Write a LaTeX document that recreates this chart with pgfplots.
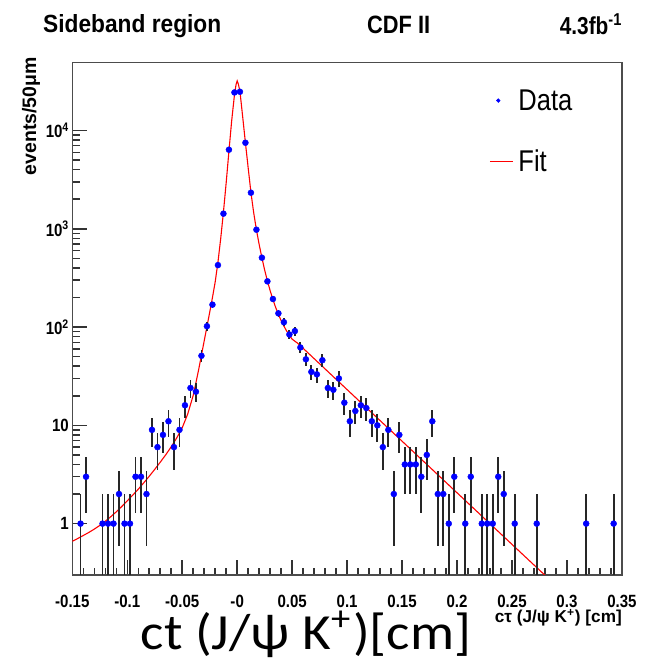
\documentclass[border=0pt]{standalone}
\usepackage{pgfplots}
\pgfplotsset{compat=1.18}
\usepackage{pgfplotstable}
\usepackage{graphicx}
\usepackage{fontspec}
\setmainfont{Liberation Sans}
\newfontfamily\bigfont{Carlito}
\newcommand{\tl}[1]{\scalebox{0.85}[1]{\bfseries #1}}

\pgfplotstableread{
x y ep em
-0.1425 1 1 0.999
-0.1375 3 1.732 1.732
-0.1225 1 1 0.999
-0.1175 1 1 0.999
-0.1125 1 1 0.999
-0.1075 2 1.414 1.414
-0.1025 1 1 0.999
-0.0975 1 1 0.999
-0.0925 3 1.732 1.732
-0.0875 3 1.732 1.732
-0.0825 2 1.414 1.414
-0.0775 9 3 3
-0.0725 6 2.449 2.449
-0.0675 8 2.828 2.828
-0.0625 11 3.317 3.317
-0.0575 6 2.449 2.449
-0.0525 9 3 3
-0.0475 16 4 4
-0.0425 24 4.899 4.899
-0.0375 22 4.690 4.690
-0.0325 51 7.141 7.141
-0.0275 102 10.10 10.10
-0.0225 169 13 13
-0.0175 427 20.66 20.66
-0.0125 1425 37.75 37.75
-0.0075 6380 79.87 79.87
-0.0025 24400 156.2 156.2
0.0025 24800 157.5 157.5
0.0075 7510 86.66 86.66
0.0125 2330 48.27 48.27
0.0175 979 31.29 31.29
0.0225 508 22.54 22.54
0.0275 292 17.09 17.09
0.0325 193 13.89 13.89
0.0375 138 11.75 11.75
0.0425 112 10.58 10.58
0.0475 84 9.165 9.165
0.0525 91 9.539 9.539
0.0575 62 7.874 7.874
0.0625 47 6.856 6.856
0.0675 35 5.916 5.916
0.0725 33 5.745 5.745
0.0775 46 6.782 6.782
0.0825 24 4.899 4.899
0.0875 23 4.796 4.796
0.0925 30 5.477 5.477
0.0975 17 4.123 4.123
0.1025 11 3.317 3.317
0.1075 14 3.742 3.742
0.1125 16 4 4
0.1175 15 3.873 3.873
0.1225 11 3.317 3.317
0.1275 10 3.162 3.162
0.1325 6 2.449 2.449
0.1375 9 3 3
0.1425 2 1.414 1.414
0.1475 8 2.828 2.828
0.1525 4 2 2
0.1575 4 2 2
0.1625 4 2 2
0.1675 3 1.732 1.732
0.1725 5 2.236 2.236
0.1775 11 3.317 3.317
0.1825 2 1.414 1.414
0.1875 2 1.414 1.414
0.1925 1 1 0.999
0.1975 3 1.732 1.732
0.2075 1 1 0.999
0.2125 3 1.732 1.732
0.2225 1 1 0.999
0.2275 1 1 0.999
0.2325 1 1 0.999
0.2375 3 1.732 1.732
0.2425 2 1.414 1.414
0.2525 1 1 0.999
0.2725 1 1 0.999
0.3175 1 1 0.999
0.3425 1 1 0.999
}\datatable

\pgfplotstableread{
x y
-0.15 0.661
-0.145 0.706
-0.14 0.757
-0.135 0.813
-0.13 0.879
-0.125 0.959
-0.12 1.057
-0.115 1.175
-0.11 1.318
-0.105 1.493
-0.10 1.706
-0.095 1.950
-0.09 2.239
-0.085 2.600
-0.08 3.034
-0.075 3.565
-0.07 4.217
-0.065 5.012
-0.06 6.053
-0.055 7.447
-0.05 9.441
-0.045 13.03
-0.04 20.18
-0.0375 27.23
-0.035 37.15
-0.0325 51.88
-0.03 72.44
-0.0275 101.2
-0.025 141.3
-0.0225 199.5
-0.02 288.4
-0.0175 457.1
-0.015 794.3
-0.0125 1479
-0.01 2951
-0.0075 6166
-0.005 12590
-0.0025 22910
-0.001 29510
0.0 31990
0.001 29850
0.0025 25120
0.005 13800
0.0075 7499
0.01 4169
0.0125 2344
0.015 1462
0.0175 977.2
0.02 691.8
0.0225 507.0
0.025 380.2
0.0275 295.1
0.03 234.4
0.0325 190.5
0.035 158.5
0.0375 134.9
0.04 116.1
0.0425 102.3
0.045 91.2
0.0475 82.2
0.05 75.3
0.055 68.5
0.06 60.8
0.1 23.1
0.15 6.90
0.2 2.06
0.25 0.615
0.3 0.184
}\fittable

\begin{document}
\begin{tikzpicture}[x=1pt,y=1pt]
\useasboundingbox (0,0) rectangle (650,663);
\begin{axis}[
  at={(72.3pt,88pt)}, anchor=south west,
  width=549.6pt, height=512.3pt, scale only axis,
  xmin=-0.15, xmax=0.35,
  ymode=log, ymin=0.3, ymax=4.9e4,
  xtick={-0.15,-0.1,-0.05,0,0.05,0.1,0.15,0.2,0.25,0.3,0.35},
  xticklabels={\tl{-0.15},\tl{-0.1},\tl{-0.05},\tl{-0},\tl{0.05},\tl{0.1},\tl{0.15},\tl{0.2},\tl{0.25},\tl{0.3},\tl{0.35}},
  minor x tick num=4,
  ytick={1,10,100,1000,10000},
  yticklabels={\tl{1},\tl{10},\tl{10\textsuperscript{2}},\tl{10\textsuperscript{3}},\tl{10\textsuperscript{4}}},
  tick align=inside, tick pos=left,
  major tick length=15pt, minor tick length=7.5pt,
  tick style={draw=black!80, line width=1.5pt},
  axis line style={black!70, line width=1.3pt},
  tick label style={font=\fontsize{17.7}{18}\selectfont},
  xticklabel style={yshift=-17pt},
  legend style={at={(0.758,0.948)}, anchor=north west, draw=none, fill=none,
    inner sep=0pt, row sep=38pt, column sep=5pt,
    font=\fontsize{30}{30}\selectfont, nodes={inner sep=0pt}},
  legend cell align=left,
]
\addplot[red, line width=1.1pt, forget plot] table[x=x,y=y]{\fittable};
\addplot[only marks, mark=*, mark size=3pt, color=blue, forget plot,
  error bars/.cd, y dir=both, y explicit, error mark=none,
  error bar style={line width=1.8pt, black!85}]
  table[x=x, y=y, y error plus=ep, y error minus=em]{\datatable};
\addlegendimage{only marks, mark=*, mark size=1.9pt, color=blue, mark options={draw=blue, fill=blue}}
\addlegendentry{\scalebox{0.85}[1]{Data}}
\addlegendimage{red, line width=1.3pt, legend image post style={xscale=1.35}}
\addlegendentry{\scalebox{0.85}[1]{Fit}}
\end{axis}
\node[anchor=west, inner sep=0pt] at (43,637) {\resizebox{178pt}{18pt}{\bfseries Sideband region}};
\node[anchor=west, inner sep=0pt] at (367,638) {\resizebox{63pt}{17.5pt}{\bfseries CDF II}};
\node[anchor=base east, inner sep=0pt] at (622,628) {\scalebox{0.85}[1]{\fontsize{24.5}{25}\selectfont\bfseries 4.3fb\textsuperscript{-1}}};
\node[rotate=90, anchor=east, inner sep=0pt] at (31,606) {\resizebox{118pt}{!}{\bfseries events/50μm}};
\node[anchor=east, inner sep=0pt] at (622,45) {\resizebox{127pt}{!}{\bfseries cτ (J/ψ K\textsuperscript{+}) [cm]}};
\node[anchor=center, inner sep=0pt] at (306,28.5) {\resizebox*{330pt}{46pt}{\bigfont ct (J/ψ K\textsuperscript{+})[cm]}};
\end{tikzpicture}
\end{document}
